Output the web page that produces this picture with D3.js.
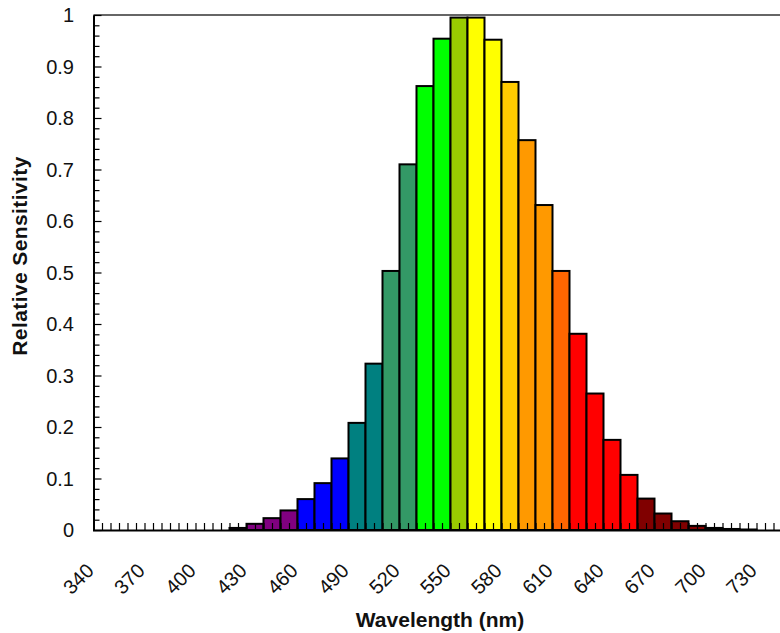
<!DOCTYPE html>
<html>
<head>
<meta charset="utf-8">
<script src="https://cdn.jsdelivr.net/npm/d3@7"></script>
<style>
html,body{margin:0;padding:0;background:#fff;}
svg{display:block;}
text{font-family:"Liberation Sans",Arial,sans-serif;fill:#111;}
</style>
</head>
<body>
<svg id="chart" width="780" height="633"></svg>
<script>
// ---- data ----
const wavelengths = [420,430,440,450,460,470,480,490,500,510,520,530,540,550,560,570,580,590,600,610,620,630,640,650,660,670,680,690,700,710,720];
const sensitivity = [0.004,0.012,0.023,0.038,0.060,0.091,0.139,0.208,0.323,0.503,0.710,0.862,0.954,0.995,0.995,0.952,0.870,0.757,0.631,0.503,0.381,0.265,0.175,0.107,0.061,0.032,0.017,0.008,0.004,0.002,0.001];
const barColors = ["#800080","#800080","#800080","#800080","#0000ff","#0000ff","#0000ff","#008080","#008080","#339966","#339966","#00ff00","#00ff00","#99cc00","#ffff00","#ffff00","#ffcc00","#ff9900","#ff9900","#ff6600","#ff0000","#ff0000","#ff0000","#ff0000","#800000","#800000","#800000","#800000","#000000","#000000","#000000"];
const xTickLabels = [340,370,400,430,460,490,520,550,580,610,640,670,700,730];
const yTickLabels = [0,0.1,0.2,0.3,0.4,0.5,0.6,0.7,0.8,0.9,1];
const binWidth = 10;

const svg = d3.select("#chart");
const x = d3.scaleLinear().domain([335, 755]).range([93.5, 93.5 + 420*1.7]);
const y = d3.scaleLinear().domain([0, 1]).range([530, 15]);

// top frame line
svg.append("line").attr("x1", 93.5).attr("x2", 800).attr("y1", 15).attr("y2", 15)
  .attr("stroke", "#333").attr("stroke-width", 1.3);

// bars
svg.append("g").selectAll("rect").data(wavelengths).join("rect")
  .attr("x", (d) => x(d - binWidth/2))
  .attr("width", (d) => x(d + binWidth/2) - x(d - binWidth/2))
  .attr("y", (d, i) => y(sensitivity[i]))
  .attr("height", (d, i) => y(0) - y(sensitivity[i]))
  .attr("fill", (d, i) => barColors[i])
  .attr("stroke", "#000").attr("stroke-width", 2);

// x axis (ticks inward)
const xMinor = d3.range(340, 756, 5);
const xAxis = d3.axisBottom(x).tickValues(xMinor).tickSize(-7).tickFormat("");
const gx = svg.append("g").attr("transform", "translate(0,530)").call(xAxis);
gx.select(".domain").attr("stroke", "#000").attr("stroke-width", 2);
gx.selectAll(".tick line").attr("stroke", "#000").attr("stroke-width", 1.2);

svg.append("g").selectAll("text").data(xTickLabels).join("text")
  .attr("transform", (d) => `translate(${x(d) - 7},572) rotate(-45)`)
  .attr("text-anchor", "end")
  .attr("font-size", 20)
  .text((d) => d);

// y axis (ticks inward)
const yMinor = d3.range(0, 51).map((i) => i / 50);
const yAxis = d3.axisLeft(y).tickValues(yMinor)
  .tickSize(0).tickFormat("");
const gy = svg.append("g").attr("transform", "translate(93.5,0)").call(yAxis);
gy.select(".domain").attr("stroke", "#000").attr("stroke-width", 2);
gy.selectAll(".tick line")
  .attr("x2", (d) => (Math.round(d * 50) % 5 === 0 ? 8 : 6))
  .attr("stroke", "#000").attr("stroke-width", 1.2);

svg.append("g").selectAll("text").data(yTickLabels).join("text")
  .attr("x", 74).attr("y", (d) => y(d) + 7)
  .attr("text-anchor", "end")
  .attr("font-size", 20)
  .text((d) => d);

// axis titles
svg.append("text")
  .attr("transform", "translate(27,256) rotate(-90)")
  .attr("text-anchor", "middle")
  .attr("font-size", 21)
  .attr("font-weight", "bold")
  .attr("letter-spacing", 0.4)
  .text("Relative Sensitivity");

svg.append("text")
  .attr("x", 440).attr("y", 627)
  .attr("text-anchor", "middle")
  .attr("font-size", 21)
  .attr("font-weight", "bold")
  .text("Wavelength (nm)");
</script>
</body>
</html>
